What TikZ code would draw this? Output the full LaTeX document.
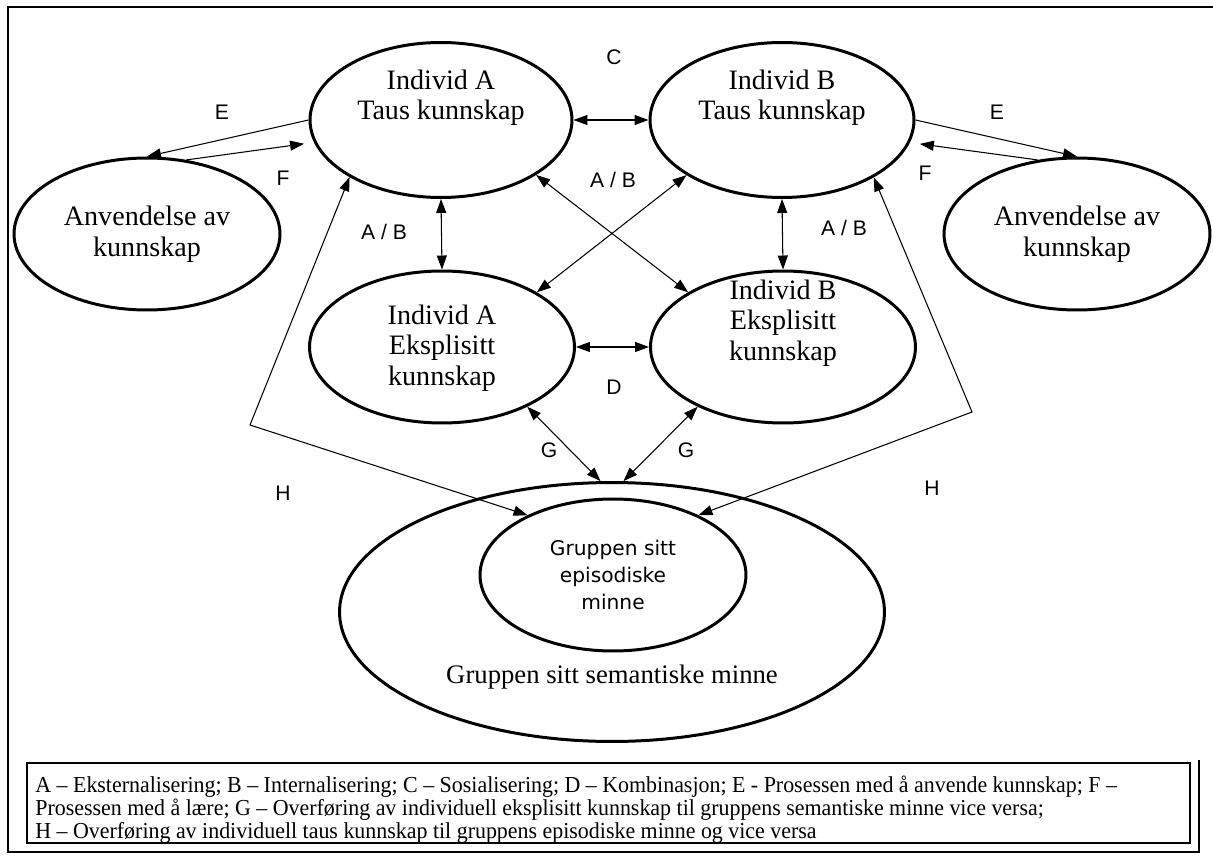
\documentclass[tikz,border=0pt]{standalone}
\usepackage{fontspec}
\usepackage{graphicx}
\setmainfont{Liberation Serif}
\newfontfamily\labelfont{Liberation Sans}
\newfontfamily\innerfont{DejaVu Sans}
\usetikzlibrary{arrows.meta,shapes.geometric}

\begin{document}
\begin{tikzpicture}[x=0.02cm,y=-0.02cm,
  every node/.style={inner sep=0pt},
  ell/.style={draw, ellipse, line width=1.7pt},
  txt/.style={align=center, font=\fontsize{16}{17.5}\selectfont},
  lbl/.style={font=\labelfont\fontsize{12}{14}\selectfont},
  legline/.style={anchor=west, font=\fontsize{13}{14}\selectfont},
  both/.style={line width=0.6pt, {Triangle[length=0.28cm,width=0.2cm]}-{Triangle[length=0.28cm,width=0.2cm]}},
  one/.style={line width=0.6pt, -{Triangle[length=0.28cm,width=0.2cm]}}]
\useasboundingbox (0,0) rectangle (1213,861);
\draw[line width=1pt] (1213,7) -- (8,7) -- (8,852) -- (1199,852) -- (1199,760);

% kunnskap
\node[ell, minimum width=5.24cm, minimum height=3.1cm] (aT) at (441,120) {};
\node[ell, minimum width=5.28cm, minimum height=3.1cm] (bT) at (782,120) {};
\node[ell, minimum width=5.32cm, minimum height=3.04cm] (anvL) at (147,234) {};
\node[ell, minimum width=5.32cm, minimum height=3.04cm] (anvR) at (1077,234) {};
\node[ell, minimum width=5.3cm, minimum height=3.04cm] (aE) at (442,347) {};
\node[ell, minimum width=5.3cm, minimum height=3.04cm] (bE) at (783,347) {};
\node[ell, minimum width=10.9cm, minimum height=5.18cm] (sem) at (612,612) {};
\node[ell, minimum width=5.32cm, minimum height=3.04cm] (epi) at (613,575) {};

\node[txt, font=\fontsize{16}{17}\selectfont] (aTtxt) at (441,98) {Individ A\\Taus kunnskap};
\node[txt, font=\fontsize{16}{17}\selectfont] (bTtxt) at (782,98) {Individ B\\Taus kunnskap};
\node[txt] (anvLtxt) at (147,234) {Anvendelse av\\kunnskap};
\node[txt] (anvRtxt) at (1077,234) {Anvendelse av\\kunnskap};
\node[txt] (aEtxt) at (442,348) {Individ A\\Eksplisitt\\kunnskap};
\node[txt] (bEtxt) at (783,323) {Individ B\\Eksplisitt\\kunnskap};
\node[txt, font=\innerfont\fontsize{11.5}{15.6}\selectfont] (epitxt) at (613,575) {Gruppen sitt\\episodiske\\minne};
\node[txt, font=\fontsize{15.2}{17}\selectfont] (semtxt) at (612,677) {Gruppen sitt semantiske minne};

% piler
\draw[both] (aT.east) -- (bT.west);
\draw[both] (aE.east) -- (bE.west);
\draw[both] (aT.south) -- (aE.north);
\draw[both] (bT.south) -- (bE.north);
\draw[both] (aT.-30) -- (bE.150);
\draw[both] (bT.-150) -- (aE.30);
\draw[both] (aE.-35) -- (sem.95);
\draw[both] (bE.-145) -- (sem.85);
\draw[one] (aT.west) -- (anvL.90);
\draw[one, shorten >=0.2cm] (anvL.62) -- (aT.190);
\draw[one] (bT.east) -- (anvR.90);
\draw[one, shorten >=0.2cm] (anvR.118) -- (bT.-10);
\coordinate (hL) at (250,425);
\coordinate (hR) at (972,412);
\draw[both] (aT.212) -- (hL) -- (epi.145);
\draw[both] (bT.-32) -- (hR) -- (epi.35);

% bokstaver
\node[lbl] (C) at (614,57) {C};
\node[lbl] (EL) at (222,112) {E};
\node[lbl] (FL) at (283,178) {F};
\node[lbl] (ER) at (997,112) {E};
\node[lbl] (FR) at (925,173) {F};
\node[lbl] (ABL) at (384,232) {A / B};
\node[lbl] (ABM) at (613,180) {A / B};
\node[lbl] (ABR) at (844,228) {A / B};
\node[lbl] (D) at (614,387) {D};
\node[lbl] (GL) at (549,450) {G};
\node[lbl] (GR) at (686,450) {G};
\node[lbl] (HL) at (283,493) {H};
\node[lbl] (HR) at (932,488) {H};

% forklaring
\draw[line width=0.6pt] (27,763) rectangle (1190,843);
\node[legline] (leg1) at (35,787) {\scalebox{0.96}[1]{A -- Eksternalisering; B -- Internalisering; C -- Sosialisering; D -- Kombinasjon; E - Prosessen med å anvende kunnskap; F --}};
\node[legline] (leg2) at (35,810) {\scalebox{0.96}[1]{Prosessen med å lære; G -- Overføring av individuell eksplisitt kunnskap til gruppens semantiske minne vice versa;}};
\node[legline] (leg3) at (35,833) {\scalebox{0.96}[1]{H -- Overføring av individuell taus kunnskap til gruppens episodiske minne og vice versa}};
\end{tikzpicture}
\end{document}
